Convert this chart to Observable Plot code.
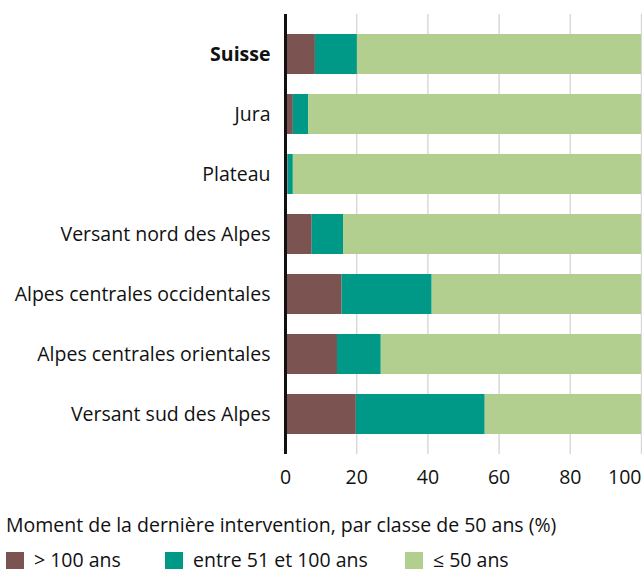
<!DOCTYPE html>
<html>
<head>
<meta charset="utf-8">
<script src="https://cdn.jsdelivr.net/npm/d3@7"></script>
<script src="https://cdn.jsdelivr.net/npm/@observablehq/plot@0.6"></script>
<style>
  body { margin: 0; background: #fff; font-family: "Open Sans", sans-serif; color: #111; }
  #chart svg { display: block; }
  .ltitle { font-size: 19.5px; line-height: 22px; margin: 19px 0 0 6px; }
  .legend { display: flex; align-items: center; margin: 13px 0 0 6px; font-size: 19.5px; line-height: 22px; }
  .item { display: flex; align-items: center; flex: none; }
  .sw { width: 18px; height: 17px; margin-right: 10px; flex: none; }
</style>
</head>
<body>
<div id="chart"></div>
<div class="ltitle">Moment de la dernière intervention, par classe de 50 ans (%)</div>
<div class="legend" id="legend"></div>
<script>
const regions = ["Suisse", "Jura", "Plateau", "Versant nord des Alpes", "Alpes centrales occidentales", "Alpes centrales orientales", "Versant sud des Alpes"];
const classes = ["> 100 ans", "entre 51 et 100 ans", "≤ 50 ans"];
const colors = ["#7b5350", "#009887", "#b3cf8f"];
const over100 = [8.4, 2.2, 0.7, 7.5, 15.9, 14.6, 19.9];
const between51and100 = [11.8, 4.3, 1.5, 8.8, 25.3, 12.3, 36.2];
const under50 = [79.8, 93.5, 97.8, 83.7, 58.8, 73.1, 43.9];
const xTicks = [0, 20, 40, 60, 80, 100];

const series = [over100, between51and100, under50];
const data = [];
regions.forEach((r, i) => {
  classes.forEach((c, k) => data.push({region: r, cls: c, value: series[k][i]}));
});

const font = "'Open Sans', sans-serif";
const fs = 19.5;
const plot = Plot.plot({
  width: 642,
  height: 495,
  marginTop: 14,
  marginBottom: 41,
  marginLeft: 285,
  marginRight: 1,
  style: {fontFamily: font, fontSize: fs + "px", color: "#111"},
  x: {domain: [0, 100], label: null},
  y: {domain: regions, padding: 0.33, label: null},
  color: {domain: classes, range: colors},
  marks: [
    Plot.gridX(xTicks, {stroke: "#d9d9d9", strokeOpacity: 1, strokeWidth: 1.5}),
    Plot.barX(data, Plot.stackX({x: "value", y: "region", fill: "cls", order: classes})),
    Plot.ruleX([0], {stroke: "#111", strokeWidth: 3}),
    Plot.axisX(xTicks.slice(0, 5), {tickSize: 0, tickPadding: 16, fontSize: fs, label: null}),
    Plot.axisX(xTicks.slice(5), {tickSize: 0, tickPadding: 16, fontSize: fs, textAnchor: "end", label: null}),
    Plot.axisY(regions.slice(0, 1), {tickSize: 0, tickPadding: 15, fontSize: fs, fontWeight: "bold", label: null}),
    Plot.axisY(regions.slice(1), {tickSize: 0, tickPadding: 15, fontSize: fs, label: null})
  ]
});
document.getElementById("chart").appendChild(plot);

const itemWidths = [159, 240, null];
const legend = document.getElementById("legend");
classes.forEach((c, k) => {
  const item = document.createElement("div");
  item.className = "item";
  if (itemWidths[k]) item.style.width = itemWidths[k] + "px";
  const sw = document.createElement("div");
  sw.className = "sw";
  sw.style.background = colors[k];
  const lab = document.createElement("span");
  lab.textContent = c;
  item.appendChild(sw);
  item.appendChild(lab);
  legend.appendChild(item);
});
</script>
</body>
</html>
